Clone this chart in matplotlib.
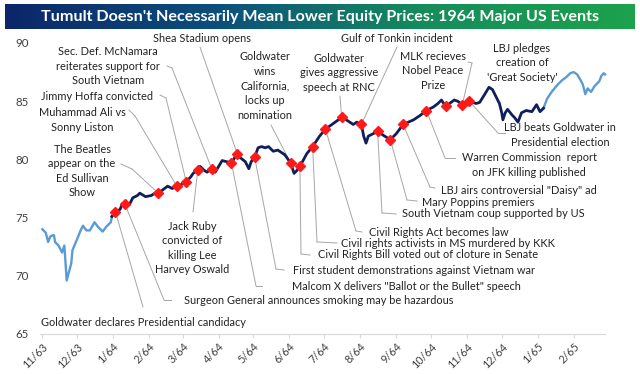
import numpy as np
import pandas as pd
import matplotlib
matplotlib.use("Agg")
import matplotlib.pyplot as plt
import matplotlib.dates as mdates
from matplotlib.colors import LinearSegmentedColormap
from matplotlib.lines import Line2D

# --- Data ---
price_dates = [
    "1963-11-01", "1963-11-04", "1963-11-06", "1963-11-08", "1963-11-11", "1963-11-12",
    "1963-11-15", "1963-11-18", "1963-11-20", "1963-11-22", "1963-11-26", "1963-11-27",
    "1963-12-02", "1963-12-04", "1963-12-06", "1963-12-09", "1963-12-12", "1963-12-16",
    "1963-12-19", "1963-12-23", "1963-12-26", "1963-12-30", "1963-12-31",
    "1964-01-03", "1964-01-07", "1964-01-09", "1964-01-11", "1964-01-15", "1964-01-18",
    "1964-01-22", "1964-01-24", "1964-01-29", "1964-02-03", "1964-02-06", "1964-02-09",
    "1964-02-13", "1964-02-17", "1964-02-21", "1964-02-25", "1964-02-28", "1964-03-04",
    "1964-03-08", "1964-03-10", "1964-03-14", "1964-03-16", "1964-03-19", "1964-03-22",
    "1964-03-26", "1964-03-29", "1964-04-01", "1964-04-04", "1964-04-08", "1964-04-12",
    "1964-04-17", "1964-04-19", "1964-04-24", "1964-04-27", "1964-04-29", "1964-05-02",
    "1964-05-05", "1964-05-08", "1964-05-11", "1964-05-14", "1964-05-18", "1964-05-22",
    "1964-05-28", "1964-06-02", "1964-06-05", "1964-06-07", "1964-06-10", "1964-06-16",
    "1964-06-21", "1964-06-27", "1964-07-02", "1964-07-09", "1964-07-16", "1964-07-20",
    "1964-07-26", "1964-07-29", "1964-08-02", "1964-08-04", "1964-08-06", "1964-08-08",
    "1964-08-12", "1964-08-16", "1964-08-22", "1964-08-27", "1964-09-01", "1964-09-07",
    "1964-09-16", "1964-09-22", "1964-09-27", "1964-10-03", "1964-10-07", "1964-10-10",
    "1964-10-12", "1964-10-14", "1964-10-17", "1964-10-21", "1964-10-24", "1964-10-28",
    "1964-11-01", "1964-11-03", "1964-11-09", "1964-11-12", "1964-11-17", "1964-11-20",
    "1964-11-23", "1964-11-26", "1964-11-29", "1964-12-01", "1964-12-02", "1964-12-04",
    "1964-12-06", "1964-12-10", "1964-12-12", "1964-12-15", "1964-12-18", "1964-12-22",
    "1964-12-27", "1964-12-31", "1965-01-03", "1965-01-06", "1965-01-09", "1965-01-13",
    "1965-01-18", "1965-01-22", "1965-01-26", "1965-01-29", "1965-02-01", "1965-02-04",
    "1965-02-07", "1965-02-09", "1965-02-11", "1965-02-13", "1965-02-16", "1965-02-19",
    "1965-02-23", "1965-02-25", "1965-02-27", "1965-02-28",
]
price_values = [
    74.0, 73.7, 72.9, 73.4, 73.5, 72.9,
    72.6, 72.0, 72.6, 69.6, 71.1, 72.2,
    73.4, 73.9, 74.3, 73.9, 73.9, 74.6,
    74.2, 73.8, 74.2, 74.6, 75.1,
    75.5, 75.7, 76.2, 76.2, 76.1, 76.7,
    76.9, 77.1, 76.8, 76.9, 77.1, 77.1,
    77.4, 77.7, 77.5, 77.7, 77.8, 78.1,
    78.5, 78.8, 79.1, 79.4, 79.1, 78.9,
    79.2, 78.9, 79.4, 79.9, 79.8, 79.7,
    80.5, 80.2, 79.8, 79.2, 79.8, 80.2,
    81.0, 81.1, 81.0, 81.1, 80.7, 80.8,
    80.4, 79.7, 78.8, 79.0, 79.4, 80.5,
    81.1, 82.0, 82.6, 83.1, 83.6, 83.4,
    83.0, 83.2, 83.0, 82.0, 81.4, 82.0,
    82.2, 82.4, 82.0, 81.7, 82.2, 83.0,
    83.4, 83.8, 84.2, 84.5, 84.8, 85.1,
    84.8, 84.6, 84.8, 85.1, 85.0, 84.7,
    84.8, 85.0, 84.8, 84.9, 85.7, 86.2,
    86.0, 85.4, 84.8, 84.0, 83.4, 84.0,
    84.3, 83.8, 83.6, 83.2, 84.0, 84.2,
    84.1, 84.7, 84.1, 84.4, 85.2, 85.8,
    86.4, 86.8, 87.1, 87.4, 87.5, 87.3,
    86.8, 86.4, 85.6, 86.1, 85.8, 86.3,
    86.7, 87.2, 87.4, 87.3,
]

# 1964 window drawn in navy
highlight_start = "1963-12-31"
highlight_end = "1965-01-06"

event_dates = [
    "1964-01-03", "1964-01-11", "1964-02-09", "1964-02-25", "1964-03-04", "1964-03-14",
    "1964-03-26", "1964-04-12", "1964-04-17", "1964-05-02", "1964-06-02", "1964-06-10",
    "1964-06-21", "1964-07-02", "1964-07-16", "1964-08-02", "1964-08-16", "1964-08-27",
    "1964-09-07", "1964-09-27", "1964-10-14", "1964-10-28", "1964-11-03",
]
event_labels = [
    "Goldwater declares Presidential candidacy",
    "Surgeon General announces smoking may be hazardous",
    "The Beatles\nappear on the\nEd Sullivan\nShow",
    "Muhammad Ali vs\nSonny Liston",
    "Jimmy Hoffa convicted",
    "Jack Ruby\nconvicted of\nkilling Lee\nHarvey Oswald",
    "Sec. Def. McNamara\nreiterates support for\nSouth Vietnam",
    "Malcom X delivers \"Ballot or the Bullet\" speech",
    "Shea Stadium opens",
    "First student demonstrations against Vietnam war",
    "Goldwater\nwins\nCalifornia,\nlocks up\nnomination",
    "Civil Rights Bill voted out of cloture in Senate",
    "Civil rights activists in MS murdered by KKK",
    "Civil Rights Act becomes law",
    "Goldwater\ngives aggressive\nspeech at RNC",
    "Gulf of Tonkin incident",
    "South Vietnam coup supported by US",
    "Mary Poppins premiers",
    "LBJ airs controversial \"Daisy\" ad",
    "Warren Commission  report\non JFK killing published",
    "LBJ pledges\ncreation of\n'Great Society'",
    "MLK recieves\nNobel Peace\nPrize",
    "LBJ beats Goldwater in\nPresidential election",
]
y_ticks = [65, 70, 75, 80, 85, 90]

# --- Layout (pixel positions in the 640x374 canvas, origin top-left) ---
# text centre (x, y), then leader path points in px ending at the marker
label_layout = [
    ((143, 323), [(143, 307)]),
    ((319, 300), [(171, 300), (164, 300)]),
    ((82, 171), [(121, 164), (132, 169)]),
    ((82, 120), [(129, 110), (135, 116)]),
    ((97, 96), [(160, 95), (166, 98)]),
    ((192, 248), [(193, 212)]),
    ((108, 66), [(167, 66), (172, 68)]),
    ((406, 286), [(262, 286), (256, 286)]),
    ((202, 39), [(200, 47)]),
    ((414, 270), [(284, 270), (276, 269)]),
    ((265, 86), [(271, 125)]),
    ((428, 255), [(310, 255), (301, 254)]),
    ((448, 243), [(337, 243), (317, 242)]),
    ((439, 232), [(362, 232), (356, 231)]),
    ((339, 73), [(340, 96)]),
    ((397, 39), [(397, 47)]),
    ((493, 214), [(396, 214), (382, 213)]),
    ((478, 202), [(417, 201), (407, 200)]),
    ((519, 190), [(435, 188), (430, 187)]),
    ((529, 165), [(455, 158), (445, 158)]),
    ((522, 63), []),
    ((433, 71), [(468, 62), (472, 63)]),
    ((560, 135), [(505, 133), (498, 133)]),
]

W, H = 640, 374
light_blue = "#5b9bd5"
navy = "#0e1f5b"
marker_red = "#ff1a1a"
leader_grey = "#a6a6a6"
text_col = "#222222"
font = "Lato"


def px(x, y):
    return (x / W, 1 - y / H)


dates = pd.to_datetime(price_dates)
vals = np.array(price_values)
ev_dates = pd.to_datetime(event_dates)
ev_vals = np.interp(mdates.date2num(ev_dates), mdates.date2num(dates), vals)

fig = plt.figure(figsize=(6.4, 3.74), dpi=100)
fig.patch.set_facecolor("white")

# --- Title banner with gradient ---
bax = fig.add_axes([5 / W, 1 - 29 / H, 630 / W, 25 / H])
cmap = LinearSegmentedColormap.from_list("banner", ["#0d2669", "#0b4f7c", "#168c5c", "#1da24c"])
bax.imshow(np.linspace(0, 1, 256)[None, :], aspect="auto", cmap=cmap, extent=[0, 1, 0, 1])
bax.set_axis_off()
bax.text(0.5, 0.47, "Tumult Doesn't Necessarily Mean Lower Equity Prices: 1964 Major US Events",
         ha="center", va="center", color="white", fontsize=11.6, fontweight="bold",
         family=font, transform=bax.transAxes)

# --- Main axes ---
ax = fig.add_axes([40 / W, 1 - 334 / H, 565 / W, 291 / H])
ax.set_ylim(65, 90)
ax.set_xlim(pd.Timestamp("1963-10-30"), pd.Timestamp("1965-02-28"))

hl = (dates >= pd.Timestamp(highlight_start)) & (dates <= pd.Timestamp(highlight_end))
pre = dates <= pd.Timestamp(highlight_start)
post = dates >= pd.Timestamp(highlight_end)
ax.plot(dates[pre], vals[pre], color=light_blue, lw=1.7, zorder=3, clip_on=False)
ax.plot(dates[post], vals[post], color=light_blue, lw=1.7, zorder=3, clip_on=False)
ax.plot(dates[hl], vals[hl], color=navy, lw=2.0, zorder=4)
ax.plot(ev_dates, ev_vals, linestyle="none", marker="D", markersize=5,
        color=marker_red, markeredgecolor=marker_red, zorder=5)

# axis styling
for side in ["top", "right", "left"]:
    ax.spines[side].set_visible(False)
ax.spines["bottom"].set_color("#d9d9d9")
ax.spines["bottom"].set_linewidth(0.8)
ax.set_yticks(y_ticks)
ax.tick_params(axis="y", length=0, pad=8, labelsize=8.3, labelcolor="#404040")
ax.xaxis.set_major_locator(mdates.MonthLocator())
ax.xaxis.set_major_formatter(plt.FuncFormatter(
    lambda v, p: f"{mdates.num2date(v).month}/{mdates.num2date(v):%y}"))
ax.tick_params(axis="x", length=3, color="#d9d9d9", labelsize=7.8, labelcolor="#404040", pad=2)
for lab in ax.get_xticklabels():
    lab.set_rotation(45)
    lab.set_ha("right")
    lab.set_rotation_mode("anchor")
for lab in ax.get_yticklabels() + ax.get_xticklabels():
    lab.set_family(font)

# --- Event labels and leader lines ---
for i, (label, (centre, path)) in enumerate(zip(event_labels, label_layout)):
    fig.text(*px(*centre), label, ha="center", va="center", fontsize=7.9, family=font,
             color=text_col, linespacing=1.4)
    if not path:
        continue
    pts = [px(*p) for p in path]
    if len(pts) > 1:
        xs, ys = zip(*pts)
        fig.add_artist(Line2D(xs, ys, color=leader_grey, lw=0.7, transform=fig.transFigure))
    ax.annotate("", xy=(ev_dates[i], ev_vals[i]), xycoords="data",
                xytext=pts[-1], textcoords="figure fraction",
                arrowprops=dict(arrowstyle="-", color=leader_grey, lw=0.7,
                                shrinkA=0, shrinkB=0), zorder=2, annotation_clip=False)

fig.savefig("out.png", dpi=100)
